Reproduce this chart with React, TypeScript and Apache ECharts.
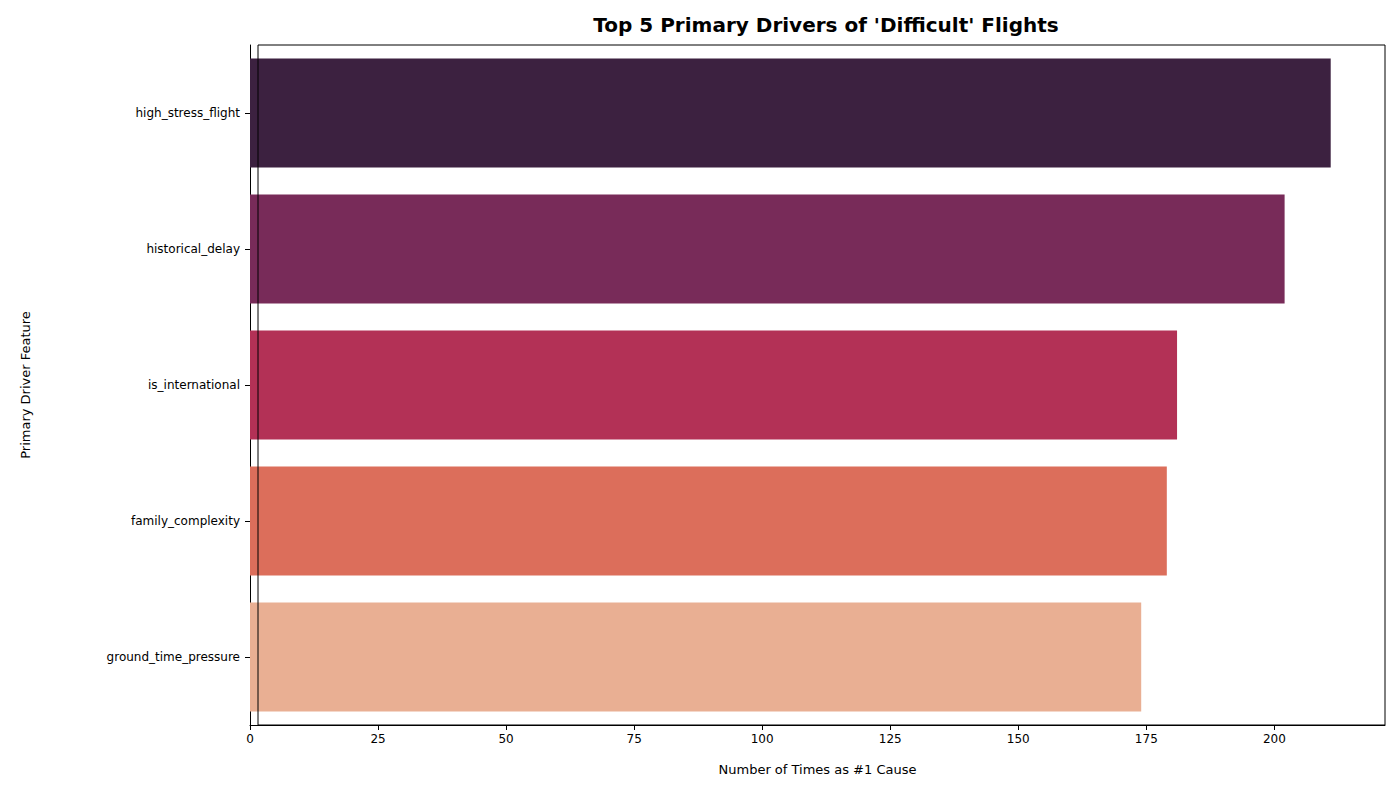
import React, { useEffect, useRef } from 'react';
import * as echarts from 'echarts';

const categories = ['high_stress_flight', 'historical_delay', 'is_international', 'family_complexity', 'ground_time_pressure'];
const counts = [211, 202, 181, 179, 174];
const barColors = ['#3c2140', '#782b59', '#b33156', '#dc6e5b', '#e9af93'];

const App: React.FC = () => {
  const chartRef = useRef<HTMLDivElement | null>(null);

  useEffect(() => {
    if (!chartRef.current) return;
    const chart = echarts.init(chartRef.current, null, { renderer: 'svg' });
    const font = 'DejaVu Sans';
    chart.setOption({
      animation: false,
      textStyle: { fontFamily: font },
      title: {
        text: "Top 5 Primary Drivers of 'Difficult' Flights",
        left: 821,
        textAlign: 'center',
        top: 10,
        textStyle: { fontSize: 20, fontWeight: 'bold', color: '#000', fontFamily: font },
      },
      grid: { left: 250, right: 15, top: 45, bottom: 75, containLabel: false },
      xAxis: {
        type: 'value',
        min: 0,
        max: 221.6,
        interval: 25,
        name: 'Number of Times as #1 Cause',
        nameLocation: 'middle',
        nameGap: 38,
        nameTextStyle: { fontSize: 13, color: '#000' },
        axisLine: { show: true, lineStyle: { color: '#000' } },
        axisTick: { show: true, length: 5, lineStyle: { color: '#000' } },
        axisLabel: { fontSize: 12, color: '#000', showMaxLabel: false, margin: 8 },
        splitLine: { show: false },
      },
      yAxis: {
        type: 'category',
        data: categories,
        inverse: true,
        name: 'Primary Driver Feature',
        nameLocation: 'middle',
        nameGap: 218,
        nameTextStyle: { fontSize: 13, color: '#000' },
        axisLine: { show: true, lineStyle: { color: '#000' } },
        axisTick: { show: true, alignWithLabel: true, length: 5, lineStyle: { color: '#000' } },
        axisLabel: { fontSize: 12, color: '#000', margin: 10 },
      },
      series: [
        {
          type: 'bar',
          barCategoryGap: '20%',
          data: counts.map((v, i) => ({ value: v, itemStyle: { color: barColors[i] } })),
        },
      ],
      graphic: [
        {
          type: 'rect',
          shape: { x: 258, y: 45, width: 1127, height: 680 },
          style: { fill: 'none', stroke: '#000', lineWidth: 1 },
          silent: true,
          z: 100,
        },
      ],
    });
    return () => chart.dispose();
  }, []);

  return <div ref={chartRef} style={{ width: 1400, height: 800, margin: -8 }} />;
};

export default App;
